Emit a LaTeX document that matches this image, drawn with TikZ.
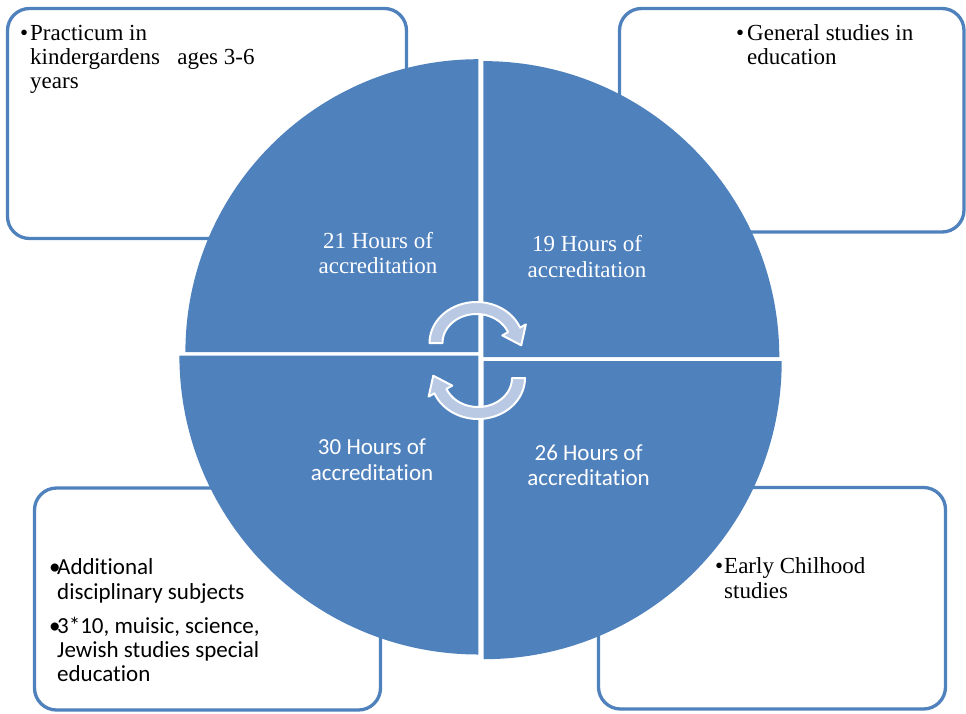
\documentclass[tikz,border=0pt]{standalone}
\usepackage{fontspec}
\setmainfont{Liberation Serif}
\newfontfamily\calfont[Ligatures=NoCommon]{Carlito}
\definecolor{qblue}{HTML}{4F81BD}
\definecolor{arrowblue}{HTML}{B9C9E3}
\begin{document}
\begin{tikzpicture}[x=1pt,y=-1pt,
  box/.style={draw=qblue, line width=3.3pt, rounded corners=22pt, fill=white},
  quad/.style={fill=qblue},
  txt/.style={anchor=base west, inner sep=0pt, font=\fontsize{23}{25}\selectfont},
  stxt/.style={anchor=base west, inner sep=0pt, font=\calfont\fontsize{23}{25}\selectfont},
  ctxt/.style={anchor=base, inner sep=0pt, text=white, font=\fontsize{23}{25}\selectfont},
  cstxt/.style={anchor=base, inner sep=0pt, text=white, font=\calfont\fontsize{23}{25}\selectfont},
  cyc/.style={fill=arrowblue, draw=white, line width=2pt, line join=round}]

\useasboundingbox (0,0) rectangle (966,713);

% outer boxes
\draw[box] (7.5,8.5) rectangle (406.5,238.5);
\draw[box] (619.5,8.5) rectangle (964,232);
\draw[box] (34.5,488) rectangle (380.5,710);
\draw[box] (598.5,487.5) rectangle (945.5,709);

% quadrants
\fill[quad] (478.4,352.2) -- ++(-293,0) arc[start angle=180, end angle=90, radius=293pt] -- cycle;
\fill[quad] (483.3,357.1) -- ++(0,-296) arc[start angle=90, end angle=0, radius=296pt] -- cycle;
\fill[quad] (483.7,361.2) -- ++(298,0) arc[start angle=0, end angle=-90, radius=298pt] -- cycle;
\fill[quad] (478.4,355.5) -- ++(0,299) arc[start angle=270, end angle=180, radius=299pt] -- cycle;

% cycle arrows
\begin{scope}[shift={(476.5,343)}]
\filldraw[cyc] plot[domain=180:338,samples=40] ({47*cos(\x)},{41*sin(\x)})
  -- (49.33,-18.62) -- (44.75,2.29) -- (25.77,-7.6)
  -- plot[domain=338:180,samples=40] ({34*cos(\x)},{29*sin(\x)}) -- cycle;
\end{scope}
\begin{scope}[shift={(478,378)}, rotate=180]
\filldraw[cyc] plot[domain=180:338,samples=40] ({47*cos(\x)},{41*sin(\x)})
  -- (49.33,-18.62) -- (44.75,2.29) -- (25.77,-7.6)
  -- plot[domain=338:180,samples=40] ({34*cos(\x)},{29*sin(\x)}) -- cycle;
\end{scope}

% quadrant labels
\node[ctxt] (q1a) at (378,248) {21 Hours of};
\node[ctxt] (q1b) at (378,273) {accreditation};
\node[ctxt] (q2a) at (587,251) {19 Hours of};
\node[ctxt] (q2b) at (587,277) {accreditation};
\node[cstxt] (q3a) at (372,454) {30 Hours of};
\node[cstxt] (q3b) at (372,480) {accreditation};
\node[cstxt] (q4a) at (588.6,460) {26 Hours of};
\node[cstxt] (q4b) at (588.6,485) {accreditation};

% box texts
\node[txt] (tlb) at (20,40) {•};
\node[txt] (tl1) at (30,40) {Practicum in};
\node[txt] (tl2) at (30,64) {kindergardens~~ ages 3-6};
\node[txt] (tl3) at (30,88) {years};

\node[txt] (trb) at (736,40) {•};
\node[txt] (tr1) at (747,40) {General studies in};
\node[txt] (tr2) at (747,64.5) {education};

\node[txt] (brb) at (715,573) {•};
\node[txt] (br1) at (724,573) {Early Chilhood};
\node[txt] (br2) at (724,598) {studies};

\node[stxt] (blb1) at (49,574) {•};
\node[stxt] (bl1) at (57,574) {Additional};
\node[stxt] (bl2) at (57,599) {disciplinary subjects};
\node[stxt] (blb2) at (49,633) {•};
\node[stxt] (bl3) at (57,633) {3*10, muisic, science,};
\node[stxt] (bl4) at (57,657) {Jewish studies special};
\node[stxt] (bl5) at (57,681.5) {education};
\end{tikzpicture}
\end{document}
